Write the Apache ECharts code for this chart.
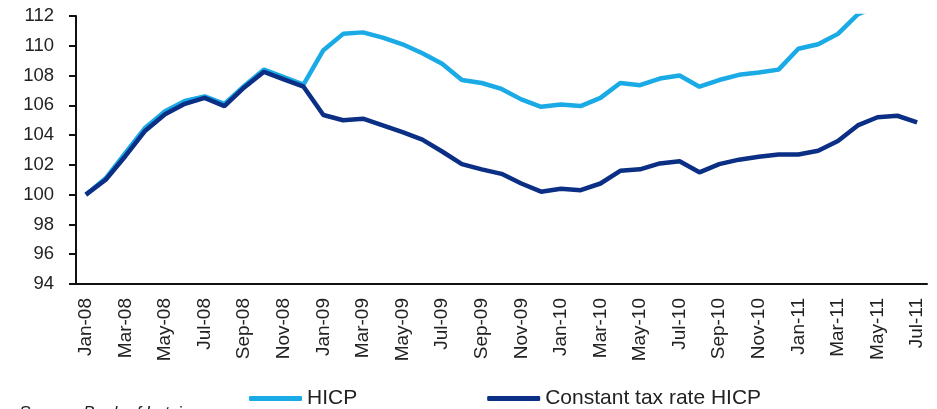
<!DOCTYPE html>
<html>
<head>
<meta charset="utf-8">
<script src="https://cdn.jsdelivr.net/npm/echarts@6/dist/echarts.min.js"></script>
<style>
html,body{margin:0;padding:0;background:#fff;}
#chart{width:937px;height:409px;}
</style>
</head>
<body>
<div id="chart"></div>
<script>
const months = ["Jan-08","Feb-08","Mar-08","Apr-08","May-08","Jun-08","Jul-08","Aug-08","Sep-08","Oct-08","Nov-08","Dec-08",
"Jan-09","Feb-09","Mar-09","Apr-09","May-09","Jun-09","Jul-09","Aug-09","Sep-09","Oct-09","Nov-09","Dec-09",
"Jan-10","Feb-10","Mar-10","Apr-10","May-10","Jun-10","Jul-10","Aug-10","Sep-10","Oct-10","Nov-10","Dec-10",
"Jan-11","Feb-11","Mar-11","Apr-11","May-11","Jun-11","Jul-11"];

const hicp = [100.0,101.1,102.8,104.5,105.6,106.3,106.6,106.1,107.3,108.4,107.9,107.4,
109.7,110.8,110.9,110.55,110.1,109.5,108.8,107.7,107.5,107.1,106.4,105.9,
106.05,105.95,106.5,107.5,107.35,107.8,108.0,107.25,107.7,108.05,108.2,108.4,
109.8,110.1,110.8,112.1,112.7,113.0,112.9];

const constantTax = [100.0,101.0,102.6,104.3,105.4,106.1,106.5,105.95,107.2,108.25,107.75,107.25,
105.35,105.0,105.1,104.65,104.2,103.7,102.9,102.05,101.7,101.4,100.75,100.2,
100.4,100.3,100.75,101.6,101.7,102.1,102.25,101.5,102.05,102.35,102.55,102.7,
102.7,102.95,103.6,104.65,105.2,105.3,104.85];

const seriesNames = ["HICP","Constant tax rate HICP"];
const yTicks = {min: 94, max: 112, step: 2};

const chart = echarts.init(document.getElementById('chart'), null, {renderer:'canvas'});
const font = "'Liberation Sans', Arial, sans-serif";
chart.setOption({
  animation: false,
  backgroundColor: '#fff',
  grid: {left: 76, right: 10, top: 16, bottom: 125, containLabel: false},
  legend: {
    data: [
      {name: seriesNames[0], icon: 'roundRect'},
      {name: seriesNames[1], icon: 'roundRect'}
    ],
    left: 244, top: 383,
    itemWidth: 53, itemHeight: 5, itemGap: 130,
    textStyle: {fontFamily: font, fontSize: 21, color: '#222', padding: [0,0,0,0]}
  },
  xAxis: {
    type: 'category',
    data: months,
    boundaryGap: true,
    axisLine: {show: true, lineStyle: {color: '#111', width: 2}},
    axisTick: {show: false},
    axisLabel: {interval: 1, rotate: 90, margin: 14, fontFamily: font, fontSize: 19, color: '#222'},
    splitLine: {show: false}
  },
  yAxis: {
    type: 'value',
    min: yTicks.min, max: yTicks.max, interval: yTicks.step,
    axisLine: {show: true, lineStyle: {color: '#111', width: 2}},
    axisTick: {show: true, inside: false, length: 7, lineStyle: {color: '#111', width: 2}},
    axisLabel: {margin: 22, fontFamily: font, fontSize: 18.5, color: '#222'},
    splitLine: {show: false}
  },
  series: [
    {name: seriesNames[0], type: 'line', data: hicp, showSymbol: false, symbol: 'none', clip: true,
     lineStyle: {color: '#1AAAE6', width: 4.5}, itemStyle: {color: '#1AAAE6'}},
    {name: seriesNames[1], type: 'line', data: constantTax, showSymbol: false, symbol: 'none', clip: true,
     lineStyle: {color: '#0B2F85', width: 4.5}, itemStyle: {color: '#0B2F85'}}
  ],
  graphic: [{
    type: 'text', left: 20, top: 405,
    style: {
      text: '{a|Source: }{b|Bank of Latvia}',
      rich: {
        a: {fontFamily: font, fontSize: 17, fill: '#222'},
        b: {fontFamily: font, fontSize: 17, fontStyle: 'italic', fill: '#222'}
      }
    }
  }]
});
</script>
</body>
</html>
